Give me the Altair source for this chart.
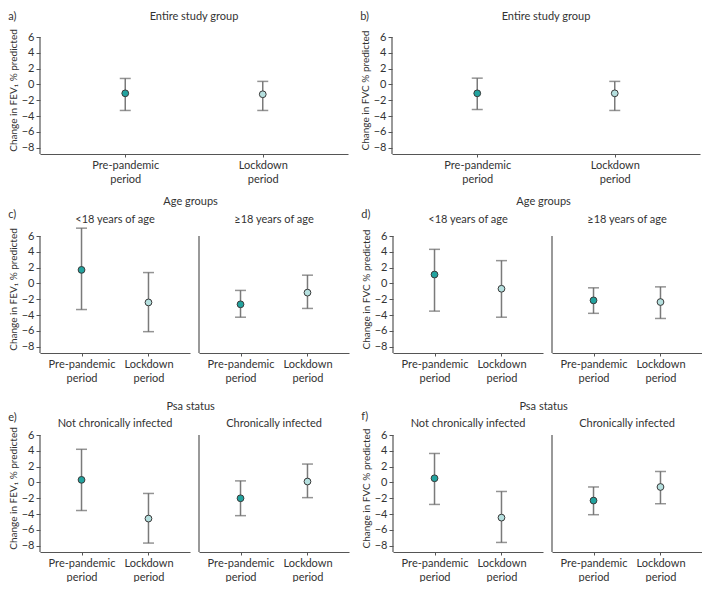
import altair as alt
import pandas as pd

periods = ["Pre-pandemic period", "Lockdown period"]
y_ticks = [-8, -6, -4, -2, 0, 2, 4, 6]
y_bottom = -8.8
y_axis_top = 6

# (pre, lockdown) means and 95% CI bounds
a_mean = [-1.12, -1.24]; a_lo = [-3.29, -3.29]; a_hi = [0.76, 0.39]
b_mean = [-1.12, -1.12]; b_lo = [-3.17, -3.29]; b_hi = [0.80, 0.39]
c1_mean = [1.72, -2.40]; c1_lo = [-3.30, -6.10]; c1_hi = [7.00, 1.38]
c2_mean = [-2.64, -1.16]; c2_lo = [-4.27, -3.16]; c2_hi = [-0.88, 1.05]
d1_mean = [1.13, -0.67]; d1_lo = [-3.50, -4.27]; d1_hi = [4.32, 2.89]
d2_mean = [-2.14, -2.35]; d2_lo = [-3.78, -4.43]; d2_hi = [-0.55, -0.43]
e1_mean = [0.33, -4.57]; e1_lo = [-3.55, -7.67]; e1_hi = [4.20, -1.39]
e2_mean = [-2.00, 0.12]; e2_lo = [-4.20, -1.92]; e2_hi = [0.20, 2.33]
f1_mean = [0.53, -4.45]; f1_lo = [-2.78, -7.59]; f1_hi = [3.67, -1.14]
f2_mean = [-2.29, -0.57]; f2_lo = [-4.08, -2.69]; f2_hi = [-0.57, 1.39]

FONT = "Lato"
FS = 11
PPU = 7.9
TOP = 7.4
TEAL = "#22a39f"
LIGHT = "#b5e0df"
BAR = "#7a7a7a"
AXC = "#555555"
TXT = "#333333"
FEV = "Change in FEV\u2081 % predicted"
FVC = "Change in FVC % predicted"


def panel(mean, lo, hi, width, title, title_offset, ytitle=None, first=True):
    df = pd.DataFrame({"period": periods, "mean": mean, "lo": lo, "hi": hi})
    height = round((TOP - y_bottom) * PPU)
    x = alt.X("period:N", sort=periods,
              scale=alt.Scale(type="point", domain=periods, padding=0.62),
              axis=alt.Axis(title=None, labelExpr="split(datum.label, ' ')",
                            labelAngle=0, tickSize=3, labelPadding=2,
                            labelLineHeight=14, grid=False))
    yscale = alt.Scale(domain=[y_bottom, TOP], nice=False, zero=False)
    if first:
        yaxis = alt.Axis(title=ytitle, values=y_ticks, tickSize=4, domain=False,
                         labelPadding=2, titlePadding=3, grid=False,
                         titleFontSize=10, labelOverlap=False)
    else:
        yaxis = None
    base = alt.Chart(df)
    yline = alt.Chart(pd.DataFrame({"y0": [y_bottom], "y1": [y_axis_top]})).mark_rule(
        color=AXC, strokeWidth=1.2).encode(
        x=alt.value(0), y=alt.Y("y0:Q", scale=yscale, axis=yaxis), y2="y1:Q")
    rule = base.mark_rule(color=BAR, strokeWidth=1.5).encode(
        x=x, y=alt.Y("lo:Q", scale=yscale, axis=yaxis), y2="hi:Q")
    cap_lo = base.mark_tick(color="#666666", size=11, thickness=1.5).encode(
        x=x, y=alt.Y("lo:Q", scale=yscale, axis=yaxis))
    cap_hi = base.mark_tick(color="#666666", size=11, thickness=1.5).encode(
        x=x, y=alt.Y("hi:Q", scale=yscale, axis=yaxis))
    pts = base.mark_circle(size=46, opacity=1, stroke="#3a3a3a",
                           strokeWidth=1).encode(
        x=x, y=alt.Y("mean:Q", scale=yscale, axis=yaxis),
        fill=alt.Fill("period:N", scale=alt.Scale(domain=periods,
                                                  range=[TEAL, LIGHT]),
                      legend=None))
    return alt.layer(yline, rule, cap_lo, cap_hi, pts).properties(
        width=width, height=height,
        title=alt.TitleParams(title, anchor="middle", frame="group",
                              fontSize=FS, fontWeight="normal", font=FONT,
                              color=TXT, offset=title_offset))


def letter(chart, text, offset):
    return alt.hconcat(chart, title=alt.TitleParams(
        text, anchor="start", fontSize=FS, fontWeight="normal", font=FONT,
        color=TXT, offset=offset))


def group(left, right, title, offset):
    return alt.hconcat(left, right, spacing=8,
                       title=alt.TitleParams(title, anchor="middle", dx=12,
                                             fontSize=FS, fontWeight="normal",
                                             font=FONT, color=TXT,
                                             offset=offset))


W1 = 308
W2 = 150

row1 = alt.hconcat(
    letter(panel(a_mean, a_lo, a_hi, W1, "Entire study group", 4, FEV), "a)", -11),
    letter(panel(b_mean, b_lo, b_hi, W1, "Entire study group", 4, FVC), "b)", -11),
    spacing=12)

row2 = alt.hconcat(
    letter(group(panel(c1_mean, c1_lo, c1_hi, W2, "<18 years of age", 0, FEV),
                 panel(c2_mean, c2_lo, c2_hi, W2, "\u226518 years of age", 0, first=False),
                 "Age groups", 7), "c)", -24),
    letter(group(panel(d1_mean, d1_lo, d1_hi, W2, "<18 years of age", 0, FVC),
                 panel(d2_mean, d2_lo, d2_hi, W2, "\u226518 years of age", 0, first=False),
                 "Age groups", 7), "d)", -24),
    spacing=12)

row3 = alt.hconcat(
    letter(group(panel(e1_mean, e1_lo, e1_hi, W2, "Not chronically infected", -5, FEV),
                 panel(e2_mean, e2_lo, e2_hi, W2, "Chronically infected", -5, first=False),
                 "Psa status", 6), "e)", -22),
    letter(group(panel(f1_mean, f1_lo, f1_hi, W2, "Not chronically infected", -5, FVC),
                 panel(f2_mean, f2_lo, f2_hi, W2, "Chronically infected", -5, first=False),
                 "Psa status", 6), "f)", -21),
    spacing=12)

chart = alt.vconcat(row1, alt.vconcat(row2, row3, spacing=18), spacing=12).properties(
    padding={"left": 0, "top": 3, "right": 0, "bottom": 0}
).configure_view(stroke=None).configure_axis(
    labelFont=FONT, titleFont=FONT, labelFontSize=FS, titleFontSize=FS,
    titleFontWeight="normal", labelColor=TXT, titleColor=TXT,
    domainColor=AXC, tickColor=AXC, domainWidth=1.2
)

chart.save("out.html", embed_options={"renderer": "svg", "actions": False})
